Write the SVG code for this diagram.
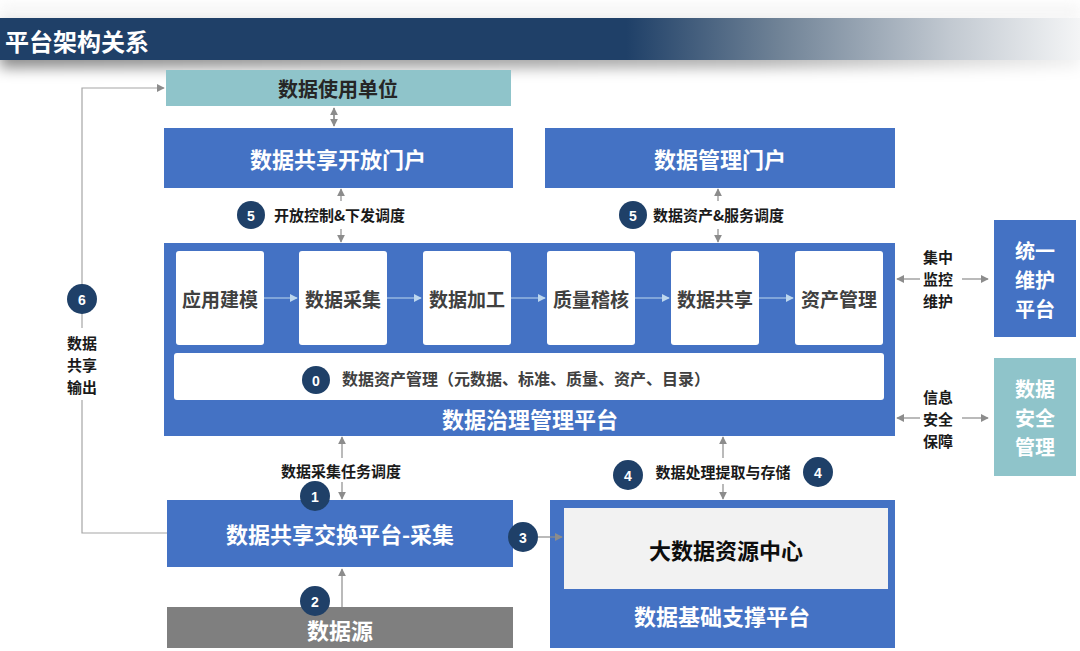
<svg xmlns="http://www.w3.org/2000/svg" width="1080" height="651" viewBox="0 0 1080 651">
<defs>
<linearGradient id="bannerGrad" x1="0" y1="0" x2="1" y2="0">
<stop offset="0" stop-color="#1f4068"/>
<stop offset="0.58" stop-color="#1f4068"/>
<stop offset="0.72" stop-color="#6f8296"/>
<stop offset="0.88" stop-color="#c2c9d1"/>
<stop offset="1" stop-color="#f4f5f6"/>
</linearGradient>
<linearGradient id="shadowGrad" x1="0" y1="0" x2="1" y2="0">
<stop offset="0" stop-color="#000" stop-opacity="0.45"/>
<stop offset="0.7" stop-color="#000" stop-opacity="0.3"/>
<stop offset="1" stop-color="#000" stop-opacity="0.05"/>
</linearGradient>
<filter id="blur" x="-10%" y="-100%" width="120%" height="300%">
<feGaussianBlur stdDeviation="7"/>
</filter>
<marker id="arr" viewBox="0 0 10 10" refX="9" refY="5" markerWidth="8" markerHeight="8" markerUnits="userSpaceOnUse" orient="auto">
<path d="M0,0 L10,5 L0,10 z" fill="#8c8c8c"/>
</marker>
<marker id="arrW" viewBox="0 0 10 10" refX="9" refY="5" markerWidth="8" markerHeight="8" markerUnits="userSpaceOnUse" orient="auto">
<path d="M0,0 L10,5 L0,10 z" fill="#bdd7ee"/>
</marker>
</defs>
<style>
text{font-family:"Noto Sans CJK SC","Noto Sans",sans-serif;font-weight:bold;text-anchor:middle;dominant-baseline:central}
.blue{fill:#4472c4}
.teal{fill:#8fc4ca}
.wt{fill:#ffffff;font-size:22px}
.wv{fill:#ffffff;font-size:20px}
.dk{fill:#262626;font-size:20px}
.inner{fill:#ffffff}
.it{fill:#404040;font-size:19px}
.lbl{fill:#1a1a1a;font-size:15px}
.side{fill:#1a1a1a;font-size:15px}
.num{fill:#1f4068}
.numt{fill:#ffffff;font-size:14px;font-family:"Liberation Sans",Arial,sans-serif}
.con{stroke:#8c8c8c;stroke-width:1.2;fill:none}
.conW{stroke:#bdd7ee;stroke-width:1.2;fill:none}
.loop{stroke:#a6a6a6;stroke-width:1.2;fill:none}
</style>
<rect x="0" y="0" width="1080" height="651" fill="#ffffff"/>
<g id="banner">
<rect x="0" y="6" width="1080" height="12" fill="#e6e6e6" opacity="0.5" filter="url(#blur)"/>
<rect x="0" y="26" width="1080" height="42" fill="url(#shadowGrad)" filter="url(#blur)"/>
<rect x="0" y="18" width="1080" height="42" fill="url(#bannerGrad)"/>
<text x="5" y="40" style="text-anchor:start;fill:#ffffff;font-size:24px">平台架构关系</text>
</g>
<g id="node-usage">
<rect class="teal" x="166" y="70" width="345" height="36"/>
<text class="dk" x="338" y="88">数据使用单位</text>
</g>
<g id="node-share-portal">
<rect class="blue" x="164" y="128" width="349" height="60"/>
<text class="wt" x="338" y="158">数据共享开放门户</text>
</g>
<g id="node-manage-portal">
<rect class="blue" x="545" y="128" width="350" height="60"/>
<text class="wt" x="720" y="158">数据管理门户</text>
</g>
<g id="node-governance">
<rect class="blue" x="164" y="243" width="731" height="193"/>
<text class="wt" x="530" y="418">数据治理管理平台</text>
</g>
<g id="node-modeling"><rect class="inner" x="176" y="251" width="88" height="94" rx="3"/><text class="it" x="220" y="298">应用建模</text></g>
<g id="node-collect"><rect class="inner" x="299" y="251" width="88" height="94" rx="3"/><text class="it" x="343" y="298">数据采集</text></g>
<g id="node-process"><rect class="inner" x="423" y="251" width="88" height="94" rx="3"/><text class="it" x="467" y="298">数据加工</text></g>
<g id="node-quality"><rect class="inner" x="547" y="251" width="88" height="94" rx="3"/><text class="it" x="591" y="298">质量稽核</text></g>
<g id="node-sharing"><rect class="inner" x="671" y="251" width="88" height="94" rx="3"/><text class="it" x="715" y="298">数据共享</text></g>
<g id="node-asset"><rect class="inner" x="795" y="251" width="88" height="94" rx="3"/><text class="it" x="839" y="298">资产管理</text></g>
<g id="node-asset-mgmt">
<rect class="inner" x="174" y="353" width="710" height="47" rx="3"/>
<circle class="num" cx="316" cy="380" r="14"/>
<text class="numt" x="316" y="381">0</text>
<text x="342" y="378" style="text-anchor:start;fill:#404040;font-size:16px">数据资产管理（元数据、标准、质量、资产、目录）</text>
</g>
<g id="node-maintain">
<rect class="blue" x="994" y="220" width="82" height="117"/>
<text class="wv" x="1035" y="250">统一</text>
<text class="wv" x="1035" y="279">维护</text>
<text class="wv" x="1035" y="308">平台</text>
</g>
<g id="node-security">
<rect class="teal" x="994" y="358" width="82" height="118"/>
<text class="wv" x="1035" y="388">数据</text>
<text class="wv" x="1035" y="417">安全</text>
<text class="wv" x="1035" y="446">管理</text>
</g>
<g id="node-exchange">
<rect class="blue" x="167" y="500" width="346" height="67"/>
<text class="wt" x="340" y="533">数据共享交换平台-采集</text>
</g>
<g id="node-source">
<rect fill="#7f7f7f" x="167" y="607" width="346" height="41"/>
<text class="wt" x="340" y="629">数据源</text>
</g>
<g id="node-base">
<rect class="blue" x="550" y="500" width="345" height="148"/>
<rect fill="#f2f2f2" x="564" y="508" width="324" height="81"/>
<text x="726" y="549" style="fill:#0d0d0d;font-size:22px">大数据资源中心</text>
<text class="wt" x="722" y="615">数据基础支撑平台</text>
</g>
<g id="connectors">
<path class="loop" d="M167,533 H82 V88 H164" marker-end="url(#arr)"/>
<path class="con" d="M334,126 V108" marker-end="url(#arr)"/>
<path class="con" d="M334,108 V126" marker-end="url(#arr)"/>
<path class="con" d="M341,201 V189" marker-end="url(#arr)"/>
<path class="con" d="M341,229 V242" marker-end="url(#arr)"/>
<path class="con" d="M718,201 V189" marker-end="url(#arr)"/>
<path class="con" d="M718,229 V242" marker-end="url(#arr)"/>
<path class="conW" d="M264,298 H297" marker-end="url(#arrW)"/>
<path class="conW" d="M387,298 H421" marker-end="url(#arrW)"/>
<path class="conW" d="M511,298 H545" marker-end="url(#arrW)"/>
<path class="conW" d="M635,298 H669" marker-end="url(#arrW)"/>
<path class="conW" d="M759,298 H793" marker-end="url(#arrW)"/>
<path class="con" d="M920,279 H897" marker-end="url(#arr)"/>
<path class="con" d="M962,279 H988" marker-end="url(#arr)"/>
<path class="con" d="M920,418 H897" marker-end="url(#arr)"/>
<path class="con" d="M962,418 H988" marker-end="url(#arr)"/>
<path class="con" d="M342,458 V437" marker-end="url(#arr)"/>
<path class="con" d="M342,482 V499" marker-end="url(#arr)"/>
<path class="con" d="M723,458 V437" marker-end="url(#arr)"/>
<path class="con" d="M723,484 V499" marker-end="url(#arr)"/>
<path class="con" d="M342,607 V569" marker-end="url(#arr)"/>
<path class="con" d="M538,537 H562" marker-end="url(#arr)"/>
</g>
<g id="label6">
<rect x="60" y="328" width="44" height="72" fill="#ffffff"/>
<circle class="num" cx="82" cy="299" r="15"/>
<text class="numt" x="82" y="300">6</text>
<text class="side" x="82" y="342">数据</text>
<text class="side" x="82" y="364">共享</text>
<text class="side" x="82" y="386">输出</text>
</g>
<g id="label5a">
<circle class="num" cx="251" cy="215" r="14"/>
<text class="numt" x="251" y="216">5</text>
<text class="lbl" x="274" y="214" style="text-anchor:start">开放控制&amp;下发调度</text>
</g>
<g id="label5b">
<circle class="num" cx="633" cy="215" r="14"/>
<text class="numt" x="633" y="216">5</text>
<text class="lbl" x="653" y="214" style="text-anchor:start">数据资产&amp;服务调度</text>
</g>
<g id="label-side">
<text class="side" x="938" y="256">集中</text>
<text class="side" x="938" y="278">监控</text>
<text class="side" x="938" y="300">维护</text>
<text class="side" x="938" y="396">信息</text>
<text class="side" x="938" y="418">安全</text>
<text class="side" x="938" y="440">保障</text>
</g>
<g id="label1">
<text class="lbl" x="341" y="470">数据采集任务调度</text>
<circle class="num" cx="315" cy="496" r="15"/>
<text class="numt" x="315" y="497">1</text>
</g>
<g id="label4">
<circle class="num" cx="628" cy="475" r="15"/>
<text class="numt" x="628" y="476">4</text>
<text class="lbl" x="723" y="471">数据处理提取与存储</text>
<circle class="num" cx="818" cy="472" r="15"/>
<text class="numt" x="818" y="473">4</text>
</g>
<g id="label2">
<circle class="num" cx="315" cy="601" r="15"/>
<text class="numt" x="315" y="602">2</text>
</g>
<g id="label3">
<circle class="num" cx="523" cy="537" r="15"/>
<text class="numt" x="523" y="538">3</text>
</g>
</svg>
